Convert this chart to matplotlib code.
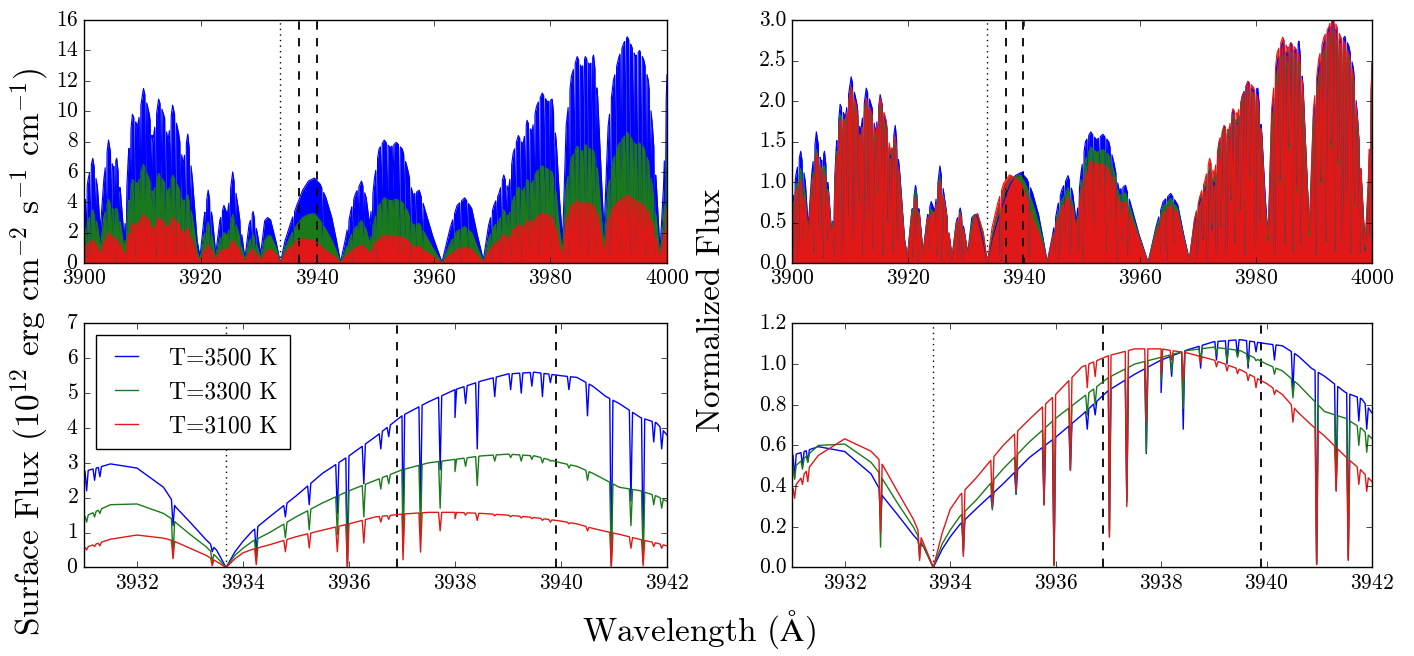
import numpy as np
import matplotlib
matplotlib.use('Agg')
import matplotlib.pyplot as plt

plt.style.use('classic')
plt.rcParams['font.family'] = 'serif'
plt.rcParams['font.serif'] = ['cmr10']
plt.rcParams['mathtext.fontset'] = 'cm'
plt.rcParams['axes.formatter.use_mathtext'] = True

# ---------------------------------------------------------------------------
# data
# ---------------------------------------------------------------------------
temps = ['T=3500 K', 'T=3300 K', 'T=3100 K']
colors = ['#0000ff', '#1a7a1a', '#e01818']

# flux scale used for "normalized flux" (ratio between the two columns)
norm = [5.0, 3.0, 1.47]

# line markers (Angstrom)
dotted_line = 3933.68
dashed_lines = [3936.9, 3939.9]

# wide range 3900-4000: upper envelope of the line forest (10^12 erg/cm2/s/cm)
w_top = [3900.0, 3900.7, 3901.5, 3902.3, 3902.8, 3903.4, 3904.2, 3905.0, 3905.6, 3906.3,
         3906.9, 3907.6, 3908.3, 3909.2, 3910.2, 3911.2, 3911.8, 3912.8, 3913.8, 3914.4,
         3915.2, 3916.2, 3917.0, 3917.8, 3918.6, 3919.4, 3919.9, 3920.6, 3921.3, 3922.0,
         3922.6, 3923.3, 3924.0, 3924.6, 3925.5, 3926.5, 3927.6, 3928.3, 3929.0, 3929.8,
         3930.3, 3931.0, 3931.5, 3932.0, 3933.0, 3933.68, 3934.5, 3935.5, 3936.5, 3937.5,
         3938.5, 3939.5, 3940.5, 3941.5, 3942.5, 3943.3, 3944.0, 3944.8, 3945.8, 3946.5,
         3947.6, 3948.4, 3949.0, 3949.8, 3950.6, 3951.5, 3952.5, 3953.6, 3954.6, 3955.5,
         3956.4, 3957.5, 3958.5, 3959.8, 3961.4, 3962.8, 3964.0, 3965.3, 3966.5, 3967.5,
         3968.5, 3969.4, 3970.3, 3971.2, 3972.0, 3972.8, 3973.6, 3974.5, 3975.3, 3976.0,
         3976.8, 3977.6, 3978.6, 3979.5, 3980.3, 3981.0, 3981.6, 3982.1, 3982.7, 3983.6,
         3984.6, 3985.4, 3986.0, 3986.8, 3987.4, 3988.1, 3988.7, 3989.2, 3989.9, 3990.8,
         3991.7, 3992.6, 3993.2, 3993.9, 3994.6, 3995.3, 3996.0, 3996.8, 3997.5, 3998.2,
         3998.8, 3999.4, 4000.0]
top_3500 = [3.5, 5.5, 6.9, 5.0, 2.2, 5.5, 8.1, 6.2, 6.9, 4.5,
            1.5, 7.0, 9.8, 9.0, 11.5, 9.8, 8.0, 10.8, 9.6, 8.0,
            10.4, 8.6, 6.5, 8.5, 5.5, 1.5, 0.4, 3.0, 4.8, 3.0,
            0.6, 2.8, 3.8, 3.2, 6.0, 3.5, 0.3, 2.5, 3.4, 1.8,
            0.6, 2.8, 3.0, 2.85, 1.3, 0.0, 1.5, 2.7, 3.8, 4.8,
            5.4, 5.6, 5.2, 4.3, 3.0, 1.5, 0.05, 1.5, 3.5, 4.5,
            5.4, 4.3, 2.5, 5.5, 7.5, 8.1, 7.6, 7.95, 7.5, 6.2,
            4.5, 4.8, 3.5, 1.8, 0.05, 2.3, 3.8, 4.3, 3.6, 1.8,
            0.2, 2.5, 3.8, 4.6, 5.8, 4.8, 7.2, 8.4, 7.8, 9.4,
            8.6, 10.3, 11.2, 10.6, 10.8, 8.0, 4.0, 1.5, 9.0, 12.3,
            13.6, 12.8, 13.6, 13.0, 13.7, 11.0, 6.0, 2.0, 9.0, 12.0,
            13.5, 14.5, 14.9, 14.3, 13.6, 14.0, 13.4, 12.0, 9.0, 5.0,
            0.8, 5.0, 12.4]
top_3300 = [2.0, 2.8, 3.5, 2.5, 1.0, 3.0, 4.2, 3.5, 3.6, 2.5,
            0.9, 3.8, 5.5, 5.2, 6.5, 5.5, 4.5, 5.9, 5.3, 4.6,
            5.8, 5.0, 4.0, 4.5, 3.0, 0.8, 0.2, 1.8, 2.7, 1.7,
            0.3, 1.6, 2.0, 1.8, 3.2, 2.0, 0.2, 1.4, 1.9, 1.0,
            0.3, 1.5, 1.8, 1.8, 0.95, 0.0, 1.0, 1.85, 2.5, 3.0,
            3.2, 3.25, 2.8, 2.2, 1.5, 0.8, 0.0, 0.8, 1.8, 2.3,
            2.8, 2.2, 1.3, 2.8, 3.8, 4.3, 4.1, 4.2, 4.0, 3.4,
            2.5, 2.6, 1.9, 1.0, 0.0, 1.3, 2.1, 2.4, 2.0, 1.0,
            0.1, 1.6, 2.4, 2.8, 3.5, 3.0, 4.2, 5.0, 4.7, 5.5,
            5.2, 6.0, 6.4, 6.2, 6.0, 4.5, 2.0, 0.8, 5.0, 6.9,
            7.7, 7.3, 7.8, 7.5, 7.4, 6.0, 3.2, 1.0, 5.0, 6.8,
            7.8, 8.3, 8.6, 8.2, 7.8, 7.9, 7.6, 6.7, 5.0, 2.8,
            0.5, 2.8, 7.2]
top_3100 = [1.0, 1.3, 1.5, 1.1, 0.5, 1.4, 2.0, 1.7, 1.6, 1.2,
            0.4, 1.8, 2.6, 2.6, 3.2, 2.8, 2.2, 3.0, 2.7, 2.3,
            3.0, 2.6, 2.0, 2.3, 1.5, 0.4, 0.1, 0.8, 1.2, 0.8,
            0.15, 0.8, 0.9, 0.9, 1.5, 1.0, 0.1, 0.7, 0.9, 0.5,
            0.15, 0.6, 0.85, 0.9, 0.55, 0.0, 0.65, 1.1, 1.45, 1.6,
            1.55, 1.45, 1.2, 0.8, 0.55, 0.3, 0.0, 0.4, 0.8, 1.0,
            1.2, 1.0, 0.6, 1.3, 1.6, 1.85, 1.8, 1.8, 1.7, 1.5,
            1.1, 1.1, 0.8, 0.45, 0.0, 0.55, 0.9, 1.05, 0.9, 0.45,
            0.05, 0.8, 1.2, 1.5, 1.9, 1.6, 2.2, 2.5, 2.4, 2.8,
            2.7, 3.0, 3.3, 3.2, 3.0, 2.3, 1.0, 0.5, 2.8, 3.8,
            4.1, 3.9, 4.0, 3.9, 3.8, 3.2, 1.8, 0.6, 2.8, 3.7,
            4.1, 4.3, 4.5, 4.3, 4.1, 4.0, 3.8, 3.4, 2.6, 1.5,
            0.3, 1.6, 3.6]

# wide range: strong lines of the forest (centre, residual flux as fraction of envelope)
w_forest = [3900.4, 3901.1, 3901.9, 3903.8, 3904.7, 3905.3, 3906.0, 3907.2, 3907.9, 3908.7,
            3909.6, 3910.6, 3911.5, 3912.3, 3913.2, 3914.0, 3914.8, 3915.7, 3916.6, 3917.4,
            3918.2, 3920.9, 3921.7, 3923.6, 3925.0, 3925.9, 3926.9, 3928.7, 3929.4, 3935.97,
            3940.95, 3945.3, 3946.1, 3947.0, 3948.0, 3949.4, 3950.2, 3951.0, 3952.0, 3953.0,
            3954.1, 3955.0, 3956.0, 3956.9, 3958.0, 3963.4, 3964.6, 3965.8, 3969.9, 3970.8,
            3971.6, 3972.4, 3973.2, 3974.0, 3974.9, 3975.7, 3976.4, 3977.2, 3978.1, 3979.0,
            3979.9, 3980.7, 3983.2, 3984.1, 3985.0, 3985.7, 3986.4, 3987.1, 3987.8, 3990.3,
            3991.2, 3992.1, 3992.9, 3993.6, 3994.2, 3994.9, 3995.6, 3996.4, 3997.1, 3997.9,
            3999.7]
resid_forest = [0.2, 0.05, 0.3, 0.1, 0.35, 0.05, 0.25, 0.1, 0.4, 0.05,
                0.3, 0.15, 0.45, 0.05, 0.3, 0.1, 0.5, 0.05, 0.35, 0.1,
                0.2, 0.1, 0.05, 0.3, 0.1, 0.05, 0.2, 0.1, 0.05, 0.05,
                0.05, 0.3, 0.05, 0.4, 0.1, 0.2, 0.05, 0.5, 0.3, 0.6,
                0.1, 0.45, 0.05, 0.3, 0.1, 0.2, 0.05, 0.3, 0.1, 0.35,
                0.05, 0.4, 0.1, 0.3, 0.05, 0.45, 0.15, 0.35, 0.05, 0.5,
                0.1, 0.3, 0.05, 0.4, 0.1, 0.55, 0.05, 0.35, 0.1, 0.05,
                0.4, 0.1, 0.5, 0.05, 0.45, 0.1, 0.3, 0.05, 0.35, 0.1,
                0.2]

# zoom 3931-3942: continuum points
w_cont = [3931.0, 3931.5, 3932.0, 3932.5, 3932.65, 3932.72, 3933.0, 3933.3, 3933.5, 3933.68,
          3933.85, 3934.0, 3934.18, 3934.5, 3935.0, 3935.5, 3936.0, 3936.5, 3937.0, 3937.5,
          3938.0, 3938.5, 3939.0, 3939.5, 3940.0, 3940.3, 3940.6, 3940.85, 3941.1, 3941.5,
          3941.8, 3942.0]
cont_3500 = [2.75, 2.97, 2.85, 2.3, 1.95, 1.75, 1.3, 0.8, 0.5, 0.0,
             0.45, 0.75, 1.05, 1.45, 2.05, 2.7, 3.2, 3.75, 4.35, 4.75,
             5.1, 5.35, 5.55, 5.6, 5.5, 5.45, 5.2, 4.9, 4.7, 4.3,
             4.15, 3.8]
cont_3300 = [1.45, 1.8, 1.82, 1.55, 1.4, 1.3, 0.95, 0.6, 0.3, 0.0,
             0.35, 0.55, 0.75, 1.0, 1.45, 1.85, 2.2, 2.5, 2.8, 3.0,
             3.1, 3.2, 3.25, 3.2, 3.0, 2.9, 2.7, 2.5, 2.3, 2.2,
             2.05, 1.9]
cont_3100 = [0.56, 0.81, 0.93, 0.84, 0.78, 0.74, 0.55, 0.35, 0.17, 0.0,
             0.25, 0.42, 0.52, 0.65, 0.88, 1.07, 1.25, 1.45, 1.53, 1.58,
             1.58, 1.55, 1.5, 1.43, 1.33, 1.25, 1.12, 1.03, 0.95, 0.8,
             0.7, 0.62]

# zoom 3931-3942: absorption lines (centre, flux at line bottom)
w_lines = [3931.05, 3931.2, 3931.3, 3932.68, 3933.42, 3934.25, 3934.8, 3935.25, 3935.78, 3935.97,
           3936.28, 3936.6, 3936.75, 3937.02, 3937.35, 3937.72, 3938.0, 3938.2, 3938.42, 3938.75,
           3939.05, 3939.25, 3939.45, 3939.65, 3939.8, 3940.15, 3940.5, 3940.95, 3941.32, 3941.55,
           3941.75, 3941.9]
bot_3500 = [2.2, 2.5, 2.6, 1.2, 0.45, 0.4, 1.45, 1.8, 1.55, 0.05,
            2.4, 3.4, 3.75, 0.9, 1.65, 2.8, 4.3, 4.7, 3.4, 4.9,
            5.1, 5.0, 5.2, 4.9, 5.3, 5.1, 4.35, 0.1, 1.9, 0.2,
            3.6, 3.4]
bot_3300 = [1.3, 1.45, 1.55, 0.3, 0.15, 0.2, 0.85, 1.08, 0.95, 0.03,
            1.45, 2.25, 2.4, 0.45, 0.96, 1.7, 2.75, 2.9, 2.35, 3.05,
            3.15, 3.05, 3.1, 3.0, 3.05, 2.85, 2.5, 0.05, 1.2, 0.15,
            1.8, 1.7]
bot_3100 = [0.5, 0.6, 0.62, 0.25, 0.05, 0.08, 0.45, 0.56, 0.45, 0.02,
            0.7, 1.3, 1.38, 0.22, 0.44, 1.05, 1.4, 1.5, 1.35, 1.48,
            1.45, 1.42, 1.4, 1.35, 1.3, 1.25, 1.05, 0.02, 0.55, 0.05,
            0.6, 0.55]

top_flux = [top_3500, top_3300, top_3100]
cont_flux = [cont_3500, cont_3300, cont_3100]
line_bot = [bot_3500, bot_3300, bot_3100]


def add_dips(wx, fy, centres, bottoms, hw):
    # put each absorption dip into the continuum line
    x = list(wx)
    y = list(fy)
    for w, b in zip(centres, bottoms):
        x += [w - hw, w, w + hw]
        y += [np.interp(w - hw, wx, fy), b, np.interp(w + hw, wx, fy)]
    order = np.argsort(x, kind='stable')
    return np.array(x)[order], np.array(y)[order]


fig = plt.figure(figsize=(14.14, 6.56), dpi=100)
fig.patch.set_facecolor('white')

ax1 = fig.add_axes([0.0594, 0.599, 0.4123, 0.3704])
ax2 = fig.add_axes([0.5601, 0.599, 0.4102, 0.3704])
ax3 = fig.add_axes([0.0594, 0.135, 0.4123, 0.372])
ax4 = fig.add_axes([0.5601, 0.135, 0.4102, 0.372])

for ax in [ax1, ax2, ax3, ax4]:
    ax.axvline(dotted_line, color='k', linestyle=':', linewidth=1)
    for d in dashed_lines:
        ax.axvline(d, color='k', linestyle='--', linewidth=1.3)

for i in range(3):
    env = np.array(top_flux[i])
    fbot = np.interp(w_forest, w_top, env) * np.array(resid_forest)
    x, f = add_dips(w_top, env, w_forest, fbot, 0.16)
    ax1.fill_between(x, 0, f, color=colors[i], linewidth=0)
    ax1.plot(x, f, color=colors[i], linewidth=0.8)
    ax2.fill_between(x, 0, f / norm[i], color=colors[i], linewidth=0)
    ax2.plot(x, f / norm[i], color=colors[i], linewidth=0.8)

    x, y = add_dips(w_cont, cont_flux[i], w_lines, line_bot[i], 0.03)
    ax3.plot(x, y, color=colors[i], linewidth=1, label=temps[i])
    ax4.plot(x, y / norm[i], color=colors[i], linewidth=1)

ax1.set_xlim(3900, 4000)
ax1.set_ylim(0, 16)
ax1.set_xticks(np.arange(3900, 4001, 20))
ax1.set_yticks(np.arange(0, 17, 2))

ax2.set_xlim(3900, 4000)
ax2.set_ylim(0, 3)
ax2.set_xticks(np.arange(3900, 4001, 20))
ax2.set_yticks(np.arange(0, 3.01, 0.5))
ax2.set_yticklabels(['0.0', '0.5', '1.0', '1.5', '2.0', '2.5', '3.0'])

ax3.set_xlim(3931, 3942)
ax3.set_ylim(0, 7)
ax3.set_xticks(np.arange(3932, 3943, 2))
ax3.set_yticks(np.arange(0, 8, 1))

ax4.set_xlim(3931, 3942)
ax4.set_ylim(0, 1.2)
ax4.set_xticks(np.arange(3932, 3943, 2))
ax4.set_yticks(np.arange(0, 1.21, 0.2))
ax4.set_yticklabels(['0.0', '0.2', '0.4', '0.6', '0.8', '1.0', '1.2'])

for ax in [ax1, ax2, ax3, ax4]:
    ax.tick_params(labelsize=15.5)
    ax.get_xaxis().get_major_formatter().set_useOffset(False)

leg = ax3.legend(loc='upper left', fontsize=17, handlelength=1.6, handletextpad=1.0,
                 labelspacing=0.5, borderpad=0.5, borderaxespad=0.5)
leg.get_frame().set_edgecolor('k')

fig.text(0.021, 0.463, r'Surface Flux (10$^{12}$ erg cm$^{-2}$ s$^{-1}$ cm$^{-1}$)',
         rotation=90, ha='center', va='center', fontsize=24)
fig.text(0.5035, 0.527, 'Normalized Flux', rotation=90, ha='center', va='center', fontsize=24)
fig.text(0.494, 0.04, r'Wavelength ($\mathrm{\AA}$)', ha='center', va='center', fontsize=24)

plt.savefig('out.png', dpi=100, facecolor='white')
